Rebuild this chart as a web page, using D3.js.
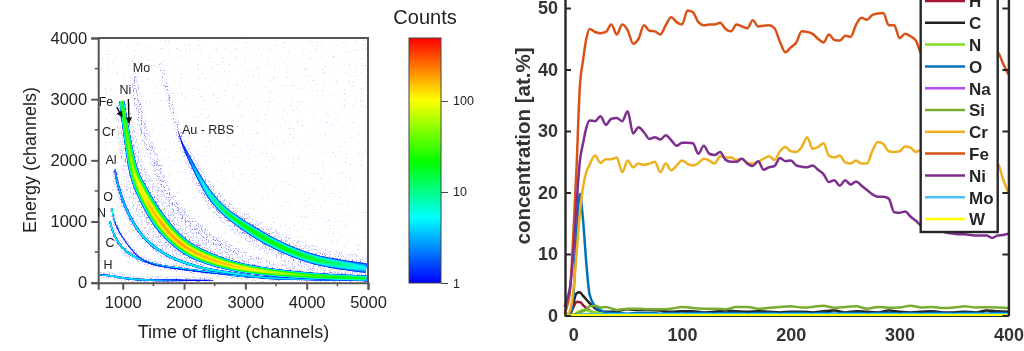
<!DOCTYPE html>
<html>
<head>
<meta charset="utf-8">
<script src="https://cdn.jsdelivr.net/npm/d3@7"></script>
<style>
  html, body { margin: 0; background: #fff; overflow: hidden; }
  svg { display: block; font-family: "Liberation Sans", Arial, sans-serif; filter: blur(0.4px); }
</style>
</head>
<body>
<div id="chart"></div>
<script>
/* DATA - left panel, ridge of every ion band: tof, energy, band width, peak counts */
const mainTof = [985, 1170, 1282, 1608, 1935, 2260, 2800, 3350, 3890, 4430, 4985];
const mainEnergy = [2967, 1860, 1560, 1000, 650, 454, 274, 180, 126, 93, 72];
const mainWidth = [5, 9, 12, 15, 14, 13, 10, 8, 7, 6, 6];
const mainPeak = [30, 70, 130, 190, 200, 190, 170, 90, 45, 28, 18];

const auTof = [1608, 1800, 1962, 2044, 2260, 2450, 2696, 3130, 3620, 4165, 4980];
const auEnergy = [3600, 2850, 2300, 2120, 1700, 1400, 1140, 836, 569, 372, 236];
const auWidth = [1, 1, 2, 3, 5, 7, 8, 10, 10, 10, 10];
const auPeak = [0.9, 0.9, 1.2, 2, 5, 10, 18, 24, 24, 18, 5];

const moTof = [1170, 1335, 1560, 1660, 2044, 2533, 3076, 3620];
const moEnergy = [3400, 2500, 1900, 1574, 1028, 650, 372, 208];
const moWidth = [2, 3, 3, 4, 4, 4, 4, 4];
const moPeak = [0.9, 0.9, 0.9, 0.9, 0.9, 0.9, 0.9, 0.9];

const alTof = [875, 902, 1065, 1335, 1718, 2260, 2800, 3350, 4000, 5000];
const alEnergy = [1848, 1684, 1192, 754, 454, 252, 154, 82, 60, 40];
const alWidth = [1.5, 2, 2.5, 2.5, 2.5, 2.5, 2.5, 2.5, 2.5, 2];
const alPeak = [3, 4, 5, 7, 7, 9, 7, 5, 5, 4];

const oTof = [820, 875, 1005, 1228, 1445, 2260, 3000];
const oEnergy = [1220, 978, 733, 454, 318, 180, 110];
const oWidth = [1, 1, 1, 1.2, 1.2, 1.2, 1.2];
const oPeak = [15, 2, 1.6, 1.6, 1.6, 1.4, 1];

const cTof = [793, 875, 1065, 1445, 1986, 2533, 3076, 4000, 5000];
const cEnergy = [1000, 754, 508, 323, 225, 159, 98, 70, 50];
const cWidth = [1.5, 1.5, 2, 2, 2, 2, 2, 2, 2];
const cPeak = [8, 7, 7, 7, 7, 7, 4, 3, 3];

const hTof = [630, 793, 1005, 1390, 2000, 2500];
const hEnergy = [126, 115, 77, 44, 40, 38];
const hWidth = [1.5, 1.5, 2, 2, 2, 2];
const hPeak = [3, 8, 6, 5, 1.3, 1.1];

const tofTicks = [1000, 2000, 3000, 4000, 5000];
const energyTicks = [0, 1000, 2000, 3000, 4000];
const countTicks = [1, 10, 100];
const countStops = [1, 5.2, 21, 103, 492];
const countColors = ["#0000ff", "#00ffff", "#00ff00", "#ffff00", "#ff0000"];

/* DATA - right panel */
const depth = [-8, -5, -3, 0, 3, 6, 9, 12, 15, 20,
  25, 30, 35, 40, 45, 50, 55, 60, 65, 70, 75, 80, 85, 90, 95, 100, 105, 110, 115, 120, 125, 130, 135, 140, 145, 150, 155, 160, 165, 170, 175, 180, 185,
  190, 195, 200, 205, 210, 215, 220, 225, 230, 235, 240, 245, 250, 255, 260, 265, 270, 275, 280, 285, 290, 295, 300, 305, 310, 315, 320,
  325, 330, 335, 340, 345, 350, 355, 360, 365, 370, 375, 380, 385, 390, 395, 400];
const fe = [0.3, 2, 4, 13, 24, 37, 41.5, 45, 46.6, 46.1,
  45.9, 46.1, 47.3, 45.7, 47.3, 46.4, 44.2, 45, 47.2, 46.3, 46.2, 45.7, 47.2, 48.5, 47.7, 47.3, 49.6, 49.3, 47.7, 47.2, 47.3, 47.3, 47.6, 46.6, 46.2, 47.3, 47, 46.7, 48, 47, 47.1, 47.2, 46.7,
  44.5, 42.8, 43.6, 44.4, 46.2, 46.1, 45.8, 45, 44.4, 45.7, 44.8, 44.7, 45.5, 45.3, 47.3, 48.4, 48.1, 48.9, 49.1, 49.2, 47.2, 47.2, 45.1, 45.8, 45.4, 44.7, 42.5,
  42, 41.5, 41.5, 42, 41.5, 41, 41, 40.5, 41, 41, 41, 41.5, 42, 42.8, 41, 39.2];
const ni = [1.4, 3, 4.6, 10, 18, 25, 28, 30.5, 31.7, 31.6,
  32.4, 31, 32, 32.1, 31.6, 33.2, 29.6, 30.6, 29.8, 28.7, 29, 28.6, 29.3, 28.5, 27.6, 28.1, 28.1, 28, 26.3, 27.6, 26.3, 26.1, 26.6, 25.3, 25, 25, 25.5, 24.7, 24.3, 25.1, 23.7, 24.1, 24.3,
  25.6, 25.1, 25.2, 24.4, 24.2, 24.1, 24.4, 23.7, 23, 21.7, 22, 21.1, 22, 21.3, 21.8, 21.1, 20.4, 19.7, 19.3, 19.3, 19, 16.8, 16.7, 16.9, 16.1, 15.4, 14.6,
  14.3, 14, 13.8, 13.6, 13.4, 13.3, 13.2, 13.2, 13.1, 13, 13, 13, 12.6, 13, 13.1, 13.3];
const cr = [0.1, 0.3, 0.8, 4, 10, 16.5, 20.9, 23.3, 24.5, 26,
  24.8, 25.4, 25.4, 25.7, 23.3, 25.2, 24.1, 24.7, 24.5, 24.7, 25, 23.3, 24.7, 23.6, 24.4, 25.2, 24.7, 24.4, 24.8, 25.5, 25.2, 24.7, 25.9, 25.7, 25.7, 25.3, 25.5, 24.8, 24.7, 25, 25.5, 25.9, 25.3,
  26.7, 27.4, 26.7, 26.6, 27.4, 29, 27.1, 27.4, 28, 26, 25.7, 26, 24.9, 24.7, 25.2, 24.7, 24.7, 26.8, 28.2, 27.9, 26.7, 26.6, 26.7, 27.5, 27.3, 26.6, 26.9,
  26.5, 26, 26, 26.5, 26, 25.5, 25.5, 25, 25, 25, 24.5, 24.5, 24.5, 24.7, 22.2, 19.9];

const lowDepth = [-8, -3, 0, 3, 6, 9, 12, 15, 20, 25, 30,
  40, 50, 60, 70, 80, 90, 100, 110, 120, 130, 140, 150, 160, 170, 180, 190, 200, 210, 220, 230, 240, 250, 260, 270, 280, 290, 300, 310, 320, 330, 340, 350, 360, 370, 380, 390, 400];
const h = [0, 0.2, 1.3, 2.2, 2.2, 1.7, 1.2, 0.8, 0.4, 0.3, 0.2,
  0.1, 0.1, 0.1, 0.1, 0.1, 0.1, 0.1, 0.1, 0.1, 0.1, 0.1, 0.1, 0.1, 0.1, 0.1, 0.1, 0.1, 0.1, 0.1, 0.1, 0.1, 0.1, 0.1, 0.1, 0.1, 0.1, 0.1, 0.1, 0.1, 0.1, 0.1, 0.1, 0.1, 0.1, 0.1, 0.1, 0.1];
const c = [0, 0.4, 2, 3.6, 3.8, 3.2, 2.6, 2, 1.2, 0.7, 0.6,
  0.7, 1, 0.9, 0.9, 0.8, 0.6, 0.7, 0.7, 0.5, 0.6, 0.8, 0.7, 0.6, 0.7, 0.6, 0.5, 0.6, 0.6, 0.5, 0.7, 0.8, 0.5, 0.7, 0.6, 0.5, 0.8, 0.6, 0.5, 0.6, 0.7, 0.5, 0.5, 0.6, 0.5, 0.8, 0.7, 0.6];
const n = [0, 0, 0.1, 0.4, 0.7, 0.9, 0.9, 0.7, 0.5, 0.4, 0.3,
  0.2, 0.2, 0.2, 0.2, 0.2, 0.2, 0.2, 0.2, 0.2, 0.2, 0.2, 0.2, 0.2, 0.2, 0.2, 0.2, 0.2, 0.2, 0.2, 0.2, 0.2, 0.2, 0.2, 0.2, 0.2, 0.2, 0.2, 0.2, 0.2, 0.2, 0.2, 0.2, 0.2, 0.2, 0.2, 0.2, 0.2];
const o = [0, 0.3, 3, 12.7, 19.8, 15.5, 8.5, 3.4, 1.5, 0.9, 0.5,
  0.4, 0.3, 0.4, 0.4, 0.3, 0.4, 0.3, 0.4, 0.4, 0.3, 0.4, 0.4, 0.3, 0.4, 0.4, 0.3, 0.4, 0.4, 0.3, 0.4, 0.3, 0.4, 0.4, 0.3, 0.4, 0.4, 0.3, 0.4, 0.3, 0.4, 0.4, 0.3, 0.4, 0.4, 0.3, 0.4, 0.4];
const na = [0, 0, 0, 0.1, 0.1, 0.1, 0.1, 0.1, 0.1, 0.1, 0.1,
  0.1, 0.1, 0.1, 0.1, 0.1, 0.1, 0.1, 0.1, 0.1, 0.1, 0.1, 0.1, 0.1, 0.1, 0.1, 0.1, 0.1, 0.1, 0.1, 0.1, 0.1, 0.1, 0.1, 0.1, 0.1, 0.1, 0.1, 0.1, 0.1, 0.1, 0.1, 0.1, 0.1, 0.1, 0.1, 0.1, 0.1];
const si = [0, 0, 0.1, 0.3, 0.5, 0.7, 1, 1.5, 1.6, 1.3, 1.4,
  0.9, 1.1, 1.1, 1, 1, 1.1, 1.4, 1.2, 1.1, 1.1, 1, 1.4, 1.4, 1.1, 1.25, 1.4, 1.5, 1.3, 1.4, 1.6, 1.25, 1.4, 1.5, 1.1, 1.4, 1.25, 1.3, 1.6, 1.3, 1.4, 1.2, 1.3, 1.5, 1.3, 1.35, 1.3, 1.2];
const mo = [0, 0, 0, 0.1, 0.2, 0.2, 0.2, 0.2, 0.2, 0.2, 0.2,
  0.2, 0.2, 0.2, 0.2, 0.2, 0.2, 0.2, 0.2, 0.2, 0.2, 0.2, 0.2, 0.2, 0.2, 0.2, 0.2, 0.2, 0.2, 0.2, 0.2, 0.2, 0.2, 0.2, 0.2, 0.2, 0.2, 0.2, 0.2, 0.2, 0.2, 0.2, 0.2, 0.2, 0.2, 0.2, 0.2, 0.2];
const w = [0, 0, 0, 0.05, 0.05, 0.05, 0.05, 0.05, 0.05, 0.05, 0.05,
  0.05, 0.05, 0.05, 0.05, 0.05, 0.05, 0.05, 0.05, 0.05, 0.05, 0.05, 0.05, 0.05, 0.05, 0.05, 0.05, 0.05, 0.05, 0.05, 0.05, 0.05, 0.05, 0.05, 0.05, 0.05, 0.05, 0.05, 0.05, 0.05, 0.05, 0.05, 0.05, 0.05, 0.05, 0.05, 0.05, 0.05];

const depthTicks = [0, 100, 200, 300, 400];
const concTicks = [0, 10, 20, 30, 40, 50];

const elements = [
  {name: "H", color: "#A2142F", xs: lowDepth, ys: h},
  {name: "C", color: "#222222", xs: lowDepth, ys: c},
  {name: "N", color: "#7FDF20", xs: lowDepth, ys: n},
  {name: "O", color: "#0072BD", xs: lowDepth, ys: o},
  {name: "Na", color: "#B84CF0", xs: lowDepth, ys: na},
  {name: "Si", color: "#77AC30", xs: lowDepth, ys: si},
  {name: "Cr", color: "#EDB120", xs: depth, ys: cr},
  {name: "Fe", color: "#D95319", xs: depth, ys: fe},
  {name: "Ni", color: "#7E2F8E", xs: depth, ys: ni},
  {name: "Mo", color: "#4DBEEE", xs: lowDepth, ys: mo},
  {name: "W", color: "#FFFF00", xs: lowDepth, ys: w}
];

const bands = [
  {tof: moTof, energy: moEnergy, width: moWidth, peak: moPeak},
  {tof: auTof, energy: auEnergy, width: auWidth, peak: auPeak},
  {tof: hTof, energy: hEnergy, width: hWidth, peak: hPeak},
  {tof: cTof, energy: cEnergy, width: cWidth, peak: cPeak},
  {tof: oTof, energy: oEnergy, width: oWidth, peak: oPeak},
  {tof: alTof, energy: alEnergy, width: alWidth, peak: alPeak},
  {tof: mainTof, energy: mainEnergy, width: mainWidth, peak: mainPeak}
];

const ionLabels = [
  {text: "Mo", x: 141.5, y: 72}, {text: "Ni", x: 125.5, y: 94}, {text: "Fe", x: 106, y: 106},
  {text: "Cr", x: 108.5, y: 136}, {text: "Al", x: 111, y: 164}, {text: "Au - RBS", x: 208, y: 134},
  {text: "O", x: 108, y: 201}, {text: "N", x: 101.5, y: 217}, {text: "C", x: 110, y: 247}, {text: "H", x: 108, y: 269}
];

/* SCALES */
const svg = d3.select("#chart").append("svg").attr("width", 1024).attr("height", 351);
const defs = svg.append("defs");

const xTof = d3.scaleLinear().domain([600, 5000]).range([98.2, 368]);
const yEnergy = d3.scaleLinear().domain([0, 4000]).range([282.7, 38]);
const yCount = d3.scaleLog().domain([1, 492]).range([283, 38]);
const countColor = d3.scaleLog().domain(countStops).range(countColors).clamp(true);

const xDepth = d3.scaleLinear().domain([-7.6, 400]).range([565, 1008.4]);
const yConc = d3.scaleLinear().domain([0, 52]).range([315.5, -4.3]);

/* LEFT PANEL */
defs.append("clipPath").attr("id", "plotClip").append("rect")
  .attr("x", 98.2).attr("y", 38).attr("width", 269.8).attr("height", 244.7);

// speckle texture for the thin count regions
function addGrain(id, gain, cut) {
  const f = defs.append("filter").attr("id", id)
    .attr("filterUnits", "userSpaceOnUse")
    .attr("x", 98).attr("y", 38).attr("width", 271).attr("height", 246)
    .attr("color-interpolation-filters", "sRGB");
  f.append("feTurbulence").attr("type", "fractalNoise").attr("baseFrequency", 0.75)
    .attr("numOctaves", 2).attr("seed", 4).attr("result", "noise");
  f.append("feColorMatrix").attr("in", "noise").attr("type", "matrix")
    .attr("values", `0 0 0 0 0  0 0 0 0 0  0 0 0 0 0  ${gain} 0 0 0 ${cut}`).attr("result", "mask");
  f.append("feComposite").attr("in", "SourceGraphic").attr("in2", "mask").attr("operator", "in");
}
addGrain("grainFar", 9, -6.3);
addGrain("grainBand", 6, -3.2);
defs.append("filter").attr("id", "soft").append("feGaussianBlur").attr("stdDeviation", 0.4);

const heat = svg.append("g").attr("clip-path", "url(#plotClip)");
heat.append("rect").attr("x", 98.2).attr("y", 38).attr("width", 269.8).attr("height", 244.7)
  .attr("fill", "#c4c4f6").attr("filter", "url(#grainFar)");

const ridge = d3.line().x(d => xTof(d[0])).y(d => yEnergy(d[1])).curve(d3.curveCatmullRom);
const helper = svg.append("path").attr("fill", "none").attr("stroke", "none");

// sample a band's ridge, returns points with normal, width and peak
function sampleBand(b) {
  helper.attr("d", ridge(b.tof.map((t, i) => [t, b.energy[i]])));
  const node = helper.node(), len = node.getTotalLength();
  const widthAt = d3.scaleLinear().domain(b.tof).range(b.width).clamp(true);
  const peakAt = d3.scaleLog().domain(b.tof).range(b.peak).clamp(true);
  const pts = [];
  for (let s = 0; s <= len; s += 1.5) {
    const p = node.getPointAtLength(s), q = node.getPointAtLength(Math.min(s + 1, len)), r = node.getPointAtLength(Math.max(s - 1, 0));
    const dx = q.x - r.x, dy = q.y - r.y, dl = Math.hypot(dx, dy) || 1;
    const t = xTof.invert(p.x);
    pts.push({x: p.x, y: p.y, nx: -dy / dl, ny: dx / dl, w: widthAt(t), peak: peakAt(t)});
  }
  return pts;
}
function ribbon(pts, half) {
  const a = pts.map(p => [p.x + p.nx * half(p), p.y + p.ny * half(p)]);
  const b = pts.map(p => [p.x - p.nx * half(p), p.y - p.ny * half(p)]).reverse();
  return d3.line()(a.concat(b)) + "Z";
}

const sampled = bands.map(sampleBand);
helper.remove();

const halo = heat.append("g").attr("filter", "url(#grainBand)");
sampled.forEach(pts => {
  halo.append("path").attr("d", ribbon(pts, p => 1.5 + p.w * 1.1)).attr("fill", "#b4b4f4");
  halo.append("path").attr("d", ribbon(pts, p => 0.8 + p.w * 0.65)).attr("fill", "#8080ee");
});

const levels = d3.range(0, 30).map(i => Math.pow(492, i / 29) * 1.1);
const solid = heat.append("g").attr("filter", "url(#soft)");
sampled.forEach(pts => {
  levels.forEach(level => {
    solid.append("path")
      .attr("d", ribbon(pts, p => p.peak <= level ? 0 : p.w / 2 * Math.sqrt(Math.log(p.peak / level) / Math.log(p.peak))))
      .attr("fill", countColor(level));
  });
});

// frame and axes
svg.append("path").attr("d", "M98.2,38H368V282.7").attr("fill", "none").attr("stroke", "#555").attr("stroke-width", 2);

const tofAxis = svg.append("g").attr("transform", "translate(0,282.7)")
  .call(d3.axisBottom(xTof).tickValues(tofTicks).tickSize(7).tickPadding(5).tickFormat(d3.format("d")));
const energyAxis = svg.append("g").attr("transform", "translate(98.2,0)")
  .call(d3.axisLeft(yEnergy).tickValues(energyTicks).tickSize(7).tickPadding(4).tickFormat(d3.format("d")));
[tofAxis, energyAxis].forEach(ax => {
  ax.selectAll("path, line").attr("stroke", "#555").attr("stroke-width", 2);
  ax.selectAll("text").attr("font-size", 16.5).attr("fill", "#222");
});
tofAxis.selectAll(".tick text").attr("dy", "0.8em");

// minor ticks at the half way marks
const minorTof = xTof.ticks(9).filter(d => d % 1000 === 500);
const minorEnergy = yEnergy.ticks(8).filter(d => d % 1000 === 500);
tofAxis.selectAll(".minor").data(minorTof).join("line").attr("class", "minor")
  .attr("x1", d => xTof(d)).attr("x2", d => xTof(d)).attr("y1", 0).attr("y2", 3.5).attr("stroke", "#555").attr("stroke-width", 1.5);
energyAxis.selectAll(".minor").data(minorEnergy).join("line").attr("class", "minor")
  .attr("y1", d => yEnergy(d)).attr("y2", d => yEnergy(d)).attr("x1", 0).attr("x2", -3.5).attr("stroke", "#555").attr("stroke-width", 1.5);

svg.append("text").attr("x", 233.5).attr("y", 338).attr("text-anchor", "middle")
  .attr("font-size", 18).attr("fill", "#222").text("Time of flight (channels)");
svg.append("text").attr("transform", "translate(36,160) rotate(-90)").attr("text-anchor", "middle")
  .attr("font-size", 18).attr("fill", "#222").text("Energy (channels)");

svg.selectAll(".ion").data(ionLabels).join("text").attr("class", "ion")
  .attr("x", d => d.x).attr("y", d => d.y).attr("text-anchor", "middle")
  .attr("font-size", 12.5).attr("fill", "#222").text(d => d.text);

// the two arrows on the Fe / Ni ridges
defs.append("marker").attr("id", "head").attr("viewBox", "0 0 10 10").attr("refX", 9).attr("refY", 5)
  .attr("markerWidth", 4.5).attr("markerHeight", 4.5).attr("orient", "auto")
  .append("path").attr("d", "M0,0L10,5L0,10Z").attr("fill", "#111");
[[116.7, 107, 122, 117], [128.4, 99, 129, 123]].forEach(a => {
  svg.append("line").attr("x1", a[0]).attr("y1", a[1]).attr("x2", a[2]).attr("y2", a[3])
    .attr("stroke", "#111").attr("stroke-width", 1.4).attr("marker-end", "url(#head)");
});

/* COLOR BAR */
const grad = defs.append("linearGradient").attr("id", "countGrad")
  .attr("x1", 0).attr("x2", 0).attr("y1", 1).attr("y2", 0);
grad.selectAll("stop").data(countStops).join("stop")
  .attr("offset", d => (283 - yCount(d)) / 245)
  .attr("stop-color", d => countColor(d));
svg.append("rect").attr("x", 409).attr("y", 38).attr("width", 32).attr("height", 245)
  .attr("fill", "url(#countGrad)").attr("stroke", "#444").attr("stroke-width", 1);
const countAxis = svg.append("g").attr("transform", "translate(441,0)")
  .call(d3.axisRight(yCount).tickValues(countTicks).tickSize(7).tickPadding(5).tickFormat(d3.format("d")));
countAxis.select("path").remove();
countAxis.selectAll("line").attr("stroke", "#444");
countAxis.selectAll("text").attr("font-size", 12.5).attr("fill", "#222");
svg.append("text").attr("x", 425).attr("y", 24).attr("text-anchor", "middle")
  .attr("font-size", 20).attr("fill", "#222").text("Counts");

/* RIGHT PANEL */
const lineGen = d3.line().x(d => xDepth(d[0])).y(d => yConc(d[1])).curve(d3.curveMonotoneX);
svg.selectAll(".element").data(elements).join("path").attr("class", "element")
  .attr("d", e => lineGen(e.xs.map((x, i) => [x, e.ys[i]])))
  .attr("fill", "none").attr("stroke", e => e.color).attr("stroke-width", 2.5).attr("stroke-linejoin", "round");

const depthAxis = svg.append("g").attr("transform", "translate(0,316)")
  .call(d3.axisBottom(xDepth).tickValues(depthTicks).tickSize(0).tickPadding(12));
const concAxis = svg.append("g").attr("transform", "translate(565,0)")
  .call(d3.axisLeft(yConc).tickValues(concTicks).tickSize(0).tickPadding(7));
const concRight = svg.append("g").attr("transform", "translate(1008.4,0)")
  .call(d3.axisRight(yConc).tickValues(concTicks).tickSize(0).tickFormat(""));
[depthAxis, concAxis, concRight].forEach(ax => {
  ax.select("path").attr("stroke", "#262626").attr("stroke-width", 2.4);
  ax.selectAll("text").attr("font-size", 18).attr("font-weight", "bold").attr("fill", "#333");
});
depthAxis.select("path").attr("stroke-width", 1);
concAxis.selectAll(".tick").append("line").attr("x1", 0).attr("x2", 6).attr("stroke", "#262626").attr("stroke-width", 2);
concRight.selectAll(".tick").append("line").attr("x1", 0).attr("x2", -6).attr("stroke", "#262626").attr("stroke-width", 2);

svg.append("text").attr("transform", "translate(530,146) rotate(-90)").attr("text-anchor", "middle")
  .attr("font-size", 20.5).attr("font-weight", "bold").attr("fill", "#333").text("concentration [at.%]");

const legend = svg.append("g");
legend.append("rect").attr("x", 920.7).attr("y", -10).attr("width", 77).attr("height", 242)
  .attr("fill", "#fff").attr("stroke", "#262626").attr("stroke-width", 2.4);
const entry = legend.selectAll(".entry").data(elements).join("g").attr("class", "entry")
  .attr("transform", (d, i) => `translate(0,${1 + i * 21.8})`);
entry.append("line").attr("x1", 925).attr("x2", 965)
  .attr("stroke", d => d.color).attr("stroke-width", 2.5);
entry.append("text").attr("x", 969).attr("y", 6.3).attr("font-size", 17).attr("font-weight", "bold")
  .attr("fill", "#262626").text(d => d.name);
</script>
</body>
</html>
